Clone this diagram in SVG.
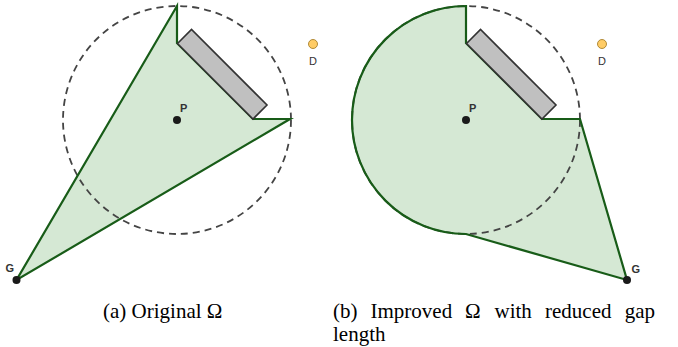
<svg xmlns="http://www.w3.org/2000/svg" width="678" height="347" viewBox="0 0 678 347">
<style>
.fill{fill:#d5e8d4;stroke:none}
.edge{fill:none;stroke:#185c18;stroke-width:2.2;stroke-linejoin:miter}
.dash{fill:none;stroke:#444;stroke-width:1.8;stroke-dasharray:7 5}
.obst{fill:#c0c0c0;stroke:#333;stroke-width:1.6}
.pt{fill:#1a1a1a}
.goal{fill:#ffcc66;stroke:#a8802a;stroke-width:0.9}
.lbl{font-family:'Liberation Sans',Arial,sans-serif;font-size:11px;fill:#333}
.cap{font-family:'Liberation Serif','Times New Roman',serif;font-size:21px;fill:#000}
</style>
<rect width="678" height="347" fill="#fff"/>
<g id="panel-a">
  <g id="a-region">
    <path class="fill" d="M177 6 L177 43 L253 119 L290 119 L16.5 280 Z"/>
  </g>
  <g id="a-circle"><circle class="dash" cx="177" cy="120" r="114"/></g>
  <g id="a-region-edge"><path class="edge" d="M177 6 L177 43 L253 119 L290 119 L16.5 280 Z"/></g>
  <g id="a-obstacle"><path class="obst" d="M177.5 43.5 L191.5 29.5 L267 105 L253 119 Z"/></g>
  <g id="a-P"><circle class="pt" cx="177" cy="120" r="4"/><text class="lbl" x="180" y="112" font-weight="bold">P</text></g>
  <g id="a-G"><circle class="pt" cx="16.5" cy="280" r="4"/><text class="lbl" x="5.5" y="272" font-weight="bold">G</text></g>
  <g id="a-D"><circle class="goal" cx="313" cy="44" r="4.5"/><text class="lbl" x="313" y="64.5" text-anchor="middle">D</text></g>
</g>
<g id="panel-b">
  <g id="b-region">
    <path class="fill" d="M466 6 L466 43 L542 119 L580 119 L627 280 L466 234 A114 114 0 0 1 466 6 Z"/>
  </g>
  <g id="b-circle"><circle class="dash" cx="466" cy="120" r="114"/></g>
  <g id="b-region-edge"><path class="edge" d="M466 6 L466 43 L542 119 L580 119 L627 280 L466 234 A114 114 0 0 1 466 6 Z"/></g>
  <g id="b-obstacle"><path class="obst" d="M466.5 43.5 L480.5 29.5 L556 105 L542 119 Z"/></g>
  <g id="b-P"><circle class="pt" cx="466" cy="120" r="4"/><text class="lbl" x="469" y="112" font-weight="bold">P</text></g>
  <g id="b-G"><circle class="pt" cx="627" cy="280" r="4"/><text class="lbl" x="631.5" y="273" font-weight="bold">G</text></g>
  <g id="b-D"><circle class="goal" cx="602" cy="44" r="4.5"/><text class="lbl" x="602" y="64.5" text-anchor="middle">D</text></g>
</g>
<g id="captions" font-family="Liberation Serif, serif">
  <text class="cap" x="103" y="318">(a) Original Ω</text>
  <text class="cap" y="318"><tspan x="333">(b)</tspan><tspan x="370.5">Improved</tspan><tspan x="465">Ω</tspan><tspan x="494.5">with</tspan><tspan x="545">reduced</tspan><tspan x="624.7">gap</tspan></text>
  <text class="cap" x="333" y="341">length</text>
</g>
</svg>
